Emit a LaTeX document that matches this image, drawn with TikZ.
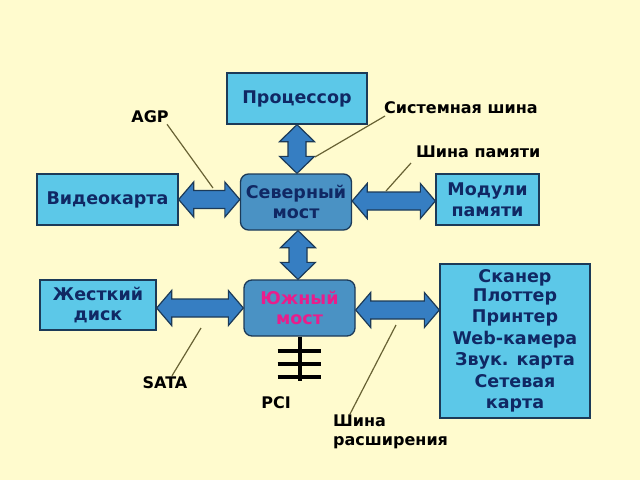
\documentclass[tikz,border=0pt]{standalone}
\usepackage{fontspec}
\setmainfont{DejaVu Sans}
\usetikzlibrary{calc}

\definecolor{bg}{RGB}{255,251,206}
\definecolor{boxfill}{RGB}{92,200,232}
\definecolor{bridgefill}{RGB}{74,146,196}
\definecolor{busfill}{RGB}{54,126,194}
\definecolor{edge}{RGB}{28,58,88}
\definecolor{navy}{RGB}{16,40,100}
\definecolor{pointer}{RGB}{104,98,52}
\definecolor{southtext}{RGB}{232,30,140}

% block arrows: head length 15, head half width 17.5, shaft half width 9
\newcommand{\hbus}[2]{%
\filldraw[bus] (#1) -- ($(#1)+(15,-17.5)$) -- ($(#1)+(15,-9)$) -- ($(#2)+(-15,-9)$)
 -- ($(#2)+(-15,-17.5)$) -- (#2) -- ($(#2)+(-15,17.5)$) -- ($(#2)+(-15,9)$)
 -- ($(#1)+(15,9)$) -- ($(#1)+(15,17.5)$) -- cycle;}
\newcommand{\vbus}[2]{%
\filldraw[bus] (#1) -- ($(#1)+(17.5,17)$) -- ($(#1)+(9,17)$) -- ($(#2)+(9,-17)$)
 -- ($(#2)+(17.5,-17)$) -- (#2) -- ($(#2)+(-17.5,-17)$) -- ($(#2)+(-9,-17)$)
 -- ($(#1)+(-9,17)$) -- ($(#1)+(-17.5,17)$) -- cycle;}

\begin{document}
\begin{tikzpicture}[x=1pt,y=-1pt]
\tikzstyle{every node}+=[inner sep=0pt]
\tikzstyle{device}=[draw=edge, line width=1.3pt, fill=boxfill, text=navy, align=center,
  font=\fontsize{17.5}{20.5}\selectfont\bfseries]
\tikzstyle{bridge}=[device, fill=bridgefill, rounded corners=8pt, minimum width=111, minimum height=56]
\tikzstyle{bus}=[fill=busfill, draw=edge, line width=1.2pt, line join=miter]
\tikzstyle{busname}=[text=black, font=\fontsize{16}{18.5}\selectfont\bfseries, align=left]
\tikzstyle{pointer}=[draw=pointer, line width=1.2pt]

\fill[bg] (0,0) rectangle (640,480);
\useasboundingbox (0,0) rectangle (640,480);

\node[device, minimum width=140, minimum height=51] (cpu) at (297,98.5) {Процессор};
\node[bridge] (north) at (296,202) {Северный\\мост};
\node[bridge, text=southtext] (south) at (299.5,308) {Южный\\мост};
\node[device, minimum width=141, minimum height=51] (video) at (107.5,199.5) {Видеокарта};
\node[device, minimum width=103, minimum height=51] (mem) at (487.5,199.5) {Модули\\памяти};
\node[device, minimum width=116, minimum height=50] (disk) at (98,305) {Жесткий\\диск};
\node[device, minimum width=150, minimum height=154, font=\fontsize{17.5}{21.5}\selectfont\bfseries]
  (periph) at (515,341) {Сканер\\[-3pt]Плоттер\\Принтер\\Web-камера\\Звук. карта\\Сетевая\\карта};

% bus end points
\coordinate (sysA) at (cpu.south);
\coordinate (sysB) at (cpu.south |- north.north);
\coordinate (nsA) at ($(north.south)+(2,0)$);
\coordinate (nsB) at (nsA |- south.north);
\coordinate (agpA) at (video.east);
\coordinate (agpB) at (video.east -| north.west);
\coordinate (memA) at ($(north.east)+(0,-1)$);
\coordinate (memB) at (memA -| mem.west);
\coordinate (sataA) at ($(disk.east)+(0,3)$);
\coordinate (sataB) at (sataA -| south.west);
\coordinate (expA) at ($(south.east)+(0,2)$);
\coordinate (expB) at (expA -| periph.west);

\vbus{sysA}{sysB}
\vbus{nsA}{nsB}
\hbus{agpA}{agpB}
\hbus{memA}{memB}
\hbus{sataA}{sataB}
\hbus{expA}{expB}

% PCI
\coordinate (pcibot) at ($(south.south)+(0,44)$);
\draw[line width=4pt] (south.south) -- (pcibot);
\foreach \yy in {14,27,40}
  \draw[line width=4pt] ($(south.south)+(-22,\yy)$) -- ($(south.south)+(21,\yy)$);

\node[busname] (agp) at (150,117) {AGP};
\node[busname, anchor=west] (sysbus) at (384,108) {Системная шина};
\node[busname, anchor=west] (membus) at (416,152) {Шина памяти};
\node[busname] (sata) at (165,383) {SATA};
\node[busname] (pci) at (276,403) {PCI};
\node[busname, anchor=west] (expbus) at (333,432) {Шина\\расширения};

\coordinate (agpend) at (213,188);
\coordinate (sysend) at (315,157);
\coordinate (memend) at (386,191);
\coordinate (sataend) at (201,328);
\coordinate (expend) at (396,325);
\draw[pointer] ($(agp.south)+(17,1)$) -- (agpend);
\draw[pointer] ($(sysbus.west)+(1,8)$) -- (sysend);
\draw[pointer] ($(membus.west)+(-5,11)$) -- (memend);
\draw[pointer] ($(sata.north)+(7,-1)$) -- (sataend);
\draw[pointer] ($(expbus.north west)+(17,-1)$) -- (expend);
\end{tikzpicture}
\end{document}
